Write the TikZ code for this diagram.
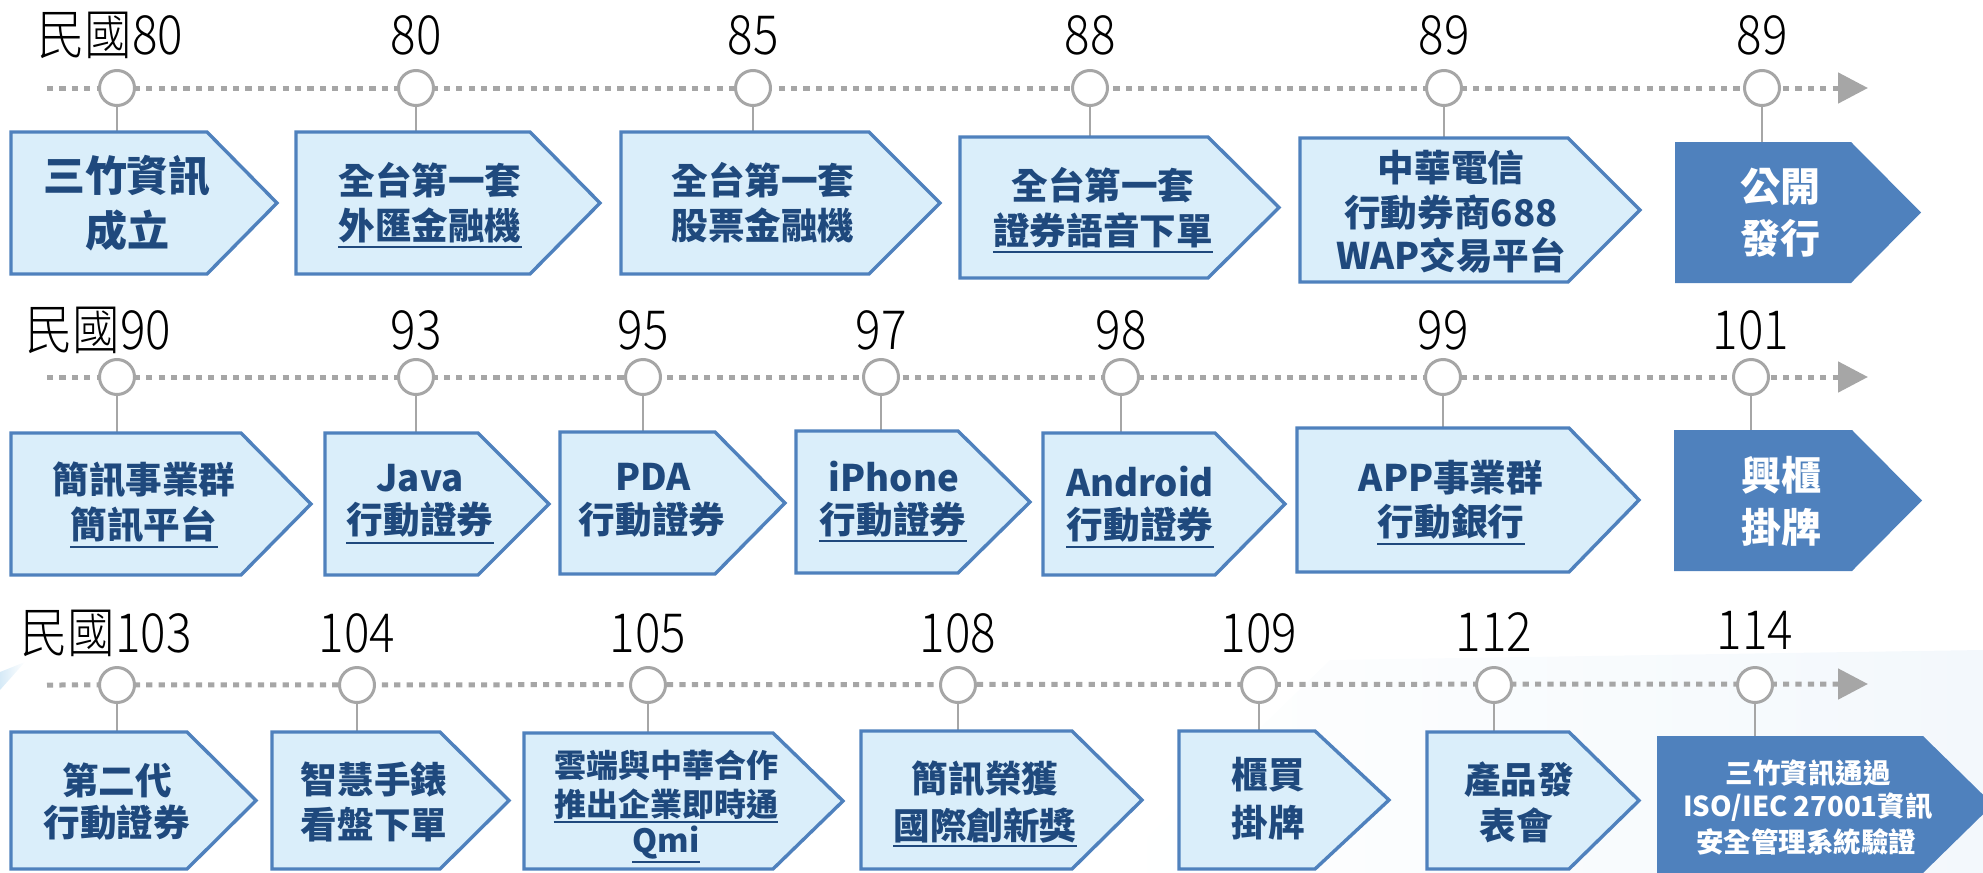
\documentclass[tikz,border=0pt]{standalone}
\usepackage{fontspec}
\setmainfont{Noto Sans CJK TC}
\IfFontExistsTF{Noto Sans CJK TC Light}{\newfontfamily\yearfont{Noto Sans CJK TC Light}[FakeStretch=0.88]}{\newfontfamily\yearfont{Noto Sans CJK TC}[FakeStretch=0.88]}
\usetikzlibrary{arrows.meta}
\definecolor{boxfill}{RGB}{218,238,250}
\definecolor{boxline}{RGB}{79,129,189}
\definecolor{txtblue}{RGB}{31,73,125}
\definecolor{tlgray}{RGB}{166,166,166}
\definecolor{bgfaint}{RGB}{243,248,252}
\definecolor{bgwedge}{RGB}{214,234,247}
\tikzset{
  yearlbl/.style={font=\yearfont\fontsize{27}{27}\selectfont, text=black, inner sep=0},
  dot/.style={circle, draw=tlgray, line width=1.5pt, fill=white, minimum size=17.5pt, inner sep=0},
  tline/.style={draw=tlgray, line width=2.5pt, dash pattern=on 3.1pt off 3.1pt, -{Triangle[length=15pt,width=15pt]}},
  stem/.style={draw=tlgray, line width=1pt},
  lbox/.style={fill=boxfill, draw=boxline, line width=1.7pt, line join=miter},
  dbox/.style={fill=boxline},
  bt/.style={font=\bfseries\fontsize{18.3}{18.3}\selectfont, text=txtblue, inner sep=0},
  btl/.style={font=\bfseries\fontsize{21}{21}\selectfont, text=txtblue, inner sep=0},
  bts/.style={font=\bfseries\fontsize{16}{16}\selectfont, text=txtblue, inner sep=0},
  wt/.style={font=\bfseries\fontsize{20}{20}\selectfont, text=white, inner sep=0},
  wts/.style={font=\bfseries\fontsize{13.75}{13.75}\selectfont, text=white, inner sep=0},
  uline/.style={draw=txtblue, line width=1.2pt}
}
% #1 style, #2 left x, #3 shoulder x, #4 tip x, #5 top y, #6 bottom y
\newcommand\pentabox[6]{\path[#1] (#2,#5) -- (#3,#5) -- (#4,{(#5+#6)/2}) -- (#3,#6) -- (#2,#6) -- cycle;}
% #1 node name, #2 shift below centre (pt)
\newcommand\ulnode[2]{\draw[uline] ([yshift=-#2pt]#1.west) -- ([yshift=-#2pt]#1.east);}
\begin{document}
\begin{tikzpicture}[x=0.5pt,y=-0.5pt]
\useasboundingbox (0,0) rectangle (1983,873);
% faint background
\shade[left color=white, right color=bgfaint] (1330,660) -- (1983,650) -- (1983,873) -- (1110,873) -- cycle;
\shade[left color=bgwedge, right color=white] (0,672) -- (25,662) -- (0,690) -- cycle;

% ---------------- Row 1 ----------------
\node[yearlbl, anchor=west] (y10) at (37,35) {民國80};
\node[yearlbl] (y11) at (416,35) {80};
\node[yearlbl] (y12) at (753,35) {85};
\node[yearlbl] (y13) at (1090,35) {88};
\node[yearlbl] (y14) at (1444,35) {89};
\node[yearlbl] (y15) at (1762,35) {89};
\coordinate (s1) at (47,88); \coordinate (e1) at (1868,88);
\draw[tline] (s1) -- (e1);
\foreach \i/\x in {0/117,1/416,2/753,3/1090,4/1444,5/1762} {\node[dot] (c1\i) at (\x,88) {};}
\foreach \i/\x/\y in {0/117/132,1/416/132,2/753/132,3/1090/137,4/1444/138,5/1762/142}
  {\coordinate (t1\i) at (\x,\y); \draw[stem] (c1\i) -- (t1\i);}
\pentabox{lbox}{11}{207}{277}{132}{274}
\pentabox{lbox}{296}{530}{600}{132}{274}
\pentabox{lbox}{621}{869}{940}{132}{274}
\pentabox{lbox}{960}{1208}{1279}{137}{278}
\pentabox{lbox}{1300}{1568}{1640}{138}{282}
\pentabox{dbox}{1675}{1851}{1921}{142}{283}
\node[btl] (a10) at (127,176) {三竹資訊};
\node[btl] (b10) at (127,230) {成立};
\node[bt] (a11) at (430,180) {全台第一套};
\node[bt] (b11) at (430,225) {外匯金融機}; \ulnode{b11}{11}
\node[bt] (a12) at (763,180) {全台第一套};
\node[bt] (b12) at (763,225) {股票金融機};
\node[bt] (a13) at (1103,185) {全台第一套};
\node[bt] (b13) at (1103,230) {證券語音下單}; \ulnode{b13}{11}
\node[bt] (a14) at (1451,168) {中華電信};
\node[bt] (b14) at (1451,213) {行動券商688};
\node[bt] (d14) at (1451,255) {WAP交易平台};
\node[wt] (a15) at (1780,187) {公開};
\node[wt] (b15) at (1780,238) {發行};

% ---------------- Row 2 ----------------
\node[yearlbl, anchor=west] (y20) at (25,330) {民國90};
\node[yearlbl] (y21) at (416,330) {93};
\node[yearlbl] (y22) at (643,330) {95};
\node[yearlbl] (y23) at (881,330) {97};
\node[yearlbl] (y24) at (1121,330) {98};
\node[yearlbl] (y25) at (1443,330) {99};
\node[yearlbl] (y26) at (1751,330) {101};
\coordinate (s2) at (47,377); \coordinate (e2) at (1868,377);
\draw[tline] (s2) -- (e2);
\foreach \i/\x in {0/117,1/416,2/643,3/881,4/1121,5/1443,6/1751} {\node[dot] (c2\i) at (\x,377) {};}
\foreach \i/\x/\y in {0/117/433,1/416/433,2/643/432,3/881/431,4/1121/433,5/1443/428,6/1751/430}
  {\coordinate (t2\i) at (\x,\y); \draw[stem] (c2\i) -- (t2\i);}
\pentabox{lbox}{11}{241}{311}{433}{575}
\pentabox{lbox}{325}{478}{549}{433}{575}
\pentabox{lbox}{560}{715}{785}{432}{574}
\pentabox{lbox}{796}{958}{1030}{431}{573}
\pentabox{lbox}{1043}{1215}{1285}{433}{575}
\pentabox{lbox}{1297}{1569}{1639}{428}{572}
\pentabox{dbox}{1674}{1852}{1922}{430}{571}
\node[bt] (a20) at (144,480) {簡訊事業群};
\node[bt] (b20) at (144,525) {簡訊平台}; \ulnode{b20}{11}
\node[bt] (a21) at (420,478) {Java};
\node[bt] (b21) at (420,520) {行動證券}; \ulnode{b21}{11.5}
\node[bt] (a22) at (653,477) {PDA};
\node[bt] (b22) at (652,520) {行動證券};
\node[bt] (a23) at (894,477) {iPhone};
\node[bt] (b23) at (893,520) {行動證券}; \ulnode{b23}{10.5}
\node[bt] (a24) at (1140,482) {Android};
\node[bt] (b24) at (1140,525) {行動證券}; \ulnode{b24}{11}
\node[bt] (a25) at (1451,478) {APP事業群};
\node[bt] (b25) at (1451,522) {行動銀行}; \ulnode{b25}{11}
\node[wt] (a26) at (1781,475) {興櫃};
\node[wt] (b26) at (1781,527) {掛牌};

% ---------------- Row 3 ----------------
\node[yearlbl, anchor=west] (y30) at (20,633) {民國103};
\node[yearlbl] (y31) at (357,633) {104};
\node[yearlbl] (y32) at (648,633) {105};
\node[yearlbl] (y33) at (958,633) {108};
\node[yearlbl] (y34) at (1259,633) {109};
\node[yearlbl] (y35) at (1494,632) {112};
\node[yearlbl] (y36) at (1755,630) {114};
\coordinate (s3) at (47,685); \coordinate (e3) at (1868,684);
\draw[tline] (s3) -- (e3);
\foreach \i/\x in {0/117,1/357,2/648,3/958,4/1259,5/1494,6/1755} {\node[dot] (c3\i) at (\x,685) {};}
\foreach \i/\x/\y in {0/117/732,1/357/732,2/648/733,3/958/731,4/1259/731,5/1494/732,6/1755/736}
  {\coordinate (t3\i) at (\x,\y); \draw[stem] (c3\i) -- (t3\i);}
\pentabox{lbox}{11}{187}{256}{732}{869}
\pentabox{lbox}{272}{440}{509}{732}{869}
\pentabox{lbox}{524}{773}{843}{733}{869}
\pentabox{lbox}{861}{1072}{1142}{731}{869}
\pentabox{lbox}{1179}{1315}{1389}{731}{869}
\pentabox{lbox}{1427}{1569}{1639}{732}{869}
\pentabox{dbox}{1657}{1923}{1993}{736}{873}
\node[bt] (a30) at (117,780) {第二代};
\node[bt] (b30) at (117,823) {行動證券};
\node[bt] (a31) at (374,780) {智慧手錶};
\node[bt] (b31) at (374,825) {看盤下單};
\node[bts] (a32) at (666,765) {雲端與中華合作};
\node[bts] (b32) at (666,804) {推出企業即時通}; \ulnode{b32}{9}
\node[bts] (d32) at (666,843) {Qmi}; \ulnode{d32}{9.5}
\node[bt] (a33) at (985,779) {簡訊榮獲};
\node[bt] (b33) at (985,826) {國際創新獎}; \ulnode{b33}{10}
\node[bt] (a34) at (1268,775) {櫃買};
\node[bt] (b34) at (1268,823) {掛牌};
\node[bt] (a35) at (1519,780) {產品發};
\node[bt] (b35) at (1516,825) {表會};
\node[wts] (a36) at (1808,773) {三竹資訊通過};
\node[wts] (b36) at (1808,807) {ISO/IEC 27001資訊};
\node[wts] (d36) at (1806,842) {安全管理系統驗證};
\end{tikzpicture}
\end{document}
